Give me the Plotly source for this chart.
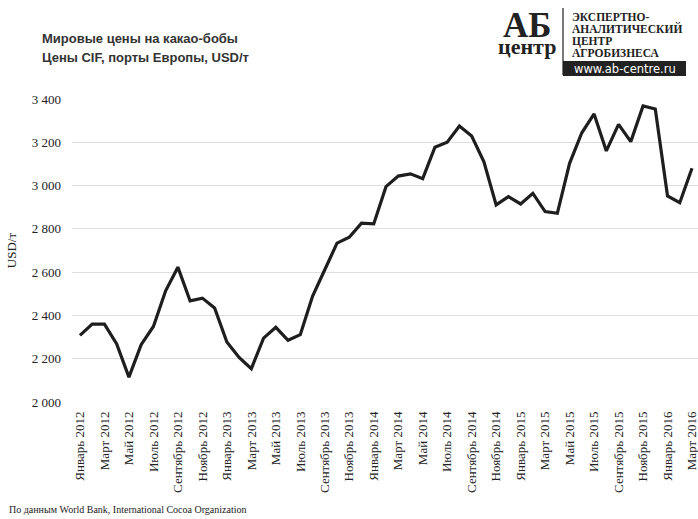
import plotly.graph_objects as go

# Monthly cocoa bean prices, CIF European ports, USD per tonne (Jan 2012 - Mar 2016)
month_names = ["Январь", "Февраль", "Март", "Апрель", "Май", "Июнь",
               "Июль", "Август", "Сентябрь", "Октябрь", "Ноябрь", "Декабрь"]
years = [2012, 2013, 2014, 2015, 2016]
months = [f"{m} {y}" for y in years for m in month_names][:51]

prices = [2308, 2360, 2360, 2268, 2115, 2265, 2349, 2514, 2623, 2467,
          2480, 2434, 2277, 2206, 2154, 2295, 2345, 2285, 2311, 2488,
          2611, 2734, 2761, 2826, 2823, 2995, 3044, 3054, 3032, 3177,
          3200, 3275, 3229, 3110, 2911, 2949, 2915, 2964, 2880, 2872,
          3103, 3244, 3331, 3160, 3283, 3203, 3368, 3354, 2952, 2921,
          3080]

# every second month is labelled on the category axis
tick_idx = list(range(0, len(months), 2))
tick_text = [months[i] for i in tick_idx]

y_ticks = [2000, 2200, 2400, 2600, 2800, 3000, 3200, 3400]

serif = "Liberation Serif, Times New Roman, serif"
sans = "Liberation Sans, Arial, sans-serif"

fig = go.Figure()
fig.add_trace(go.Scatter(
    x=list(range(len(prices))), y=prices, mode="lines",
    line=dict(color="#1e1e1e", width=3.2, shape="linear"),
    hoverinfo="skip", showlegend=False,
))

fig.update_layout(
    width=698, height=519,
    margin=dict(l=72, r=0, t=99, b=117),
    paper_bgcolor="white", plot_bgcolor="white",
    separators=", ",
    xaxis=dict(
        range=[-0.65, 50.49],
        tickmode="array", tickvals=tick_idx, ticktext=tick_text,
        tickangle=-90, showgrid=False, zeroline=False, showline=False,
        ticks="", ticklabelstandoff=6, ticklabeloverflow="allow",
        tickfont=dict(family=serif, size=13, color="#222"),
    ),
    yaxis=dict(
        range=[2000, 3400], tickmode="array", tickvals=y_ticks,
        tickformat=",d", showgrid=True, gridcolor="#dedede", gridwidth=1,
        zeroline=False, showline=False, ticks="", ticklabelstandoff=10,
        tickfont=dict(family=serif, size=13, color="#222"),
        title=dict(text="USD/т", font=dict(family=serif, size=13, color="#222"), standoff=12),
    ),
)


# pixel coordinates converted to paper units
def px(x):
    return (x - 72) / 626


def py(y):
    return (402.3 - y) / 303.3


# chart title
fig.add_annotation(xref="paper", yref="paper", x=px(40), y=py(38),
                   xanchor="left", yanchor="middle", showarrow=False, align="left",
                   text="<b>Мировые цены на какао-бобы</b>",
                   font=dict(family=sans, size=13, color="#333"))
fig.add_annotation(xref="paper", yref="paper", x=px(40), y=py(57),
                   xanchor="left", yanchor="middle", showarrow=False, align="left",
                   text="<b>Цены CIF, порты Европы, USD/т</b>",
                   font=dict(family=sans, size=13, color="#333"))

# source note
fig.add_annotation(xref="paper", yref="paper", x=px(7), y=py(510),
                   xanchor="left", yanchor="middle", showarrow=False,
                   text="По данным World Bank, International Cocoa Organization",
                   font=dict(family=serif, size=10, color="#222"))

# publisher logo: small base font keeps the line pitch tight, spans set glyph size
fig.add_annotation(xref="paper", yref="paper", x=px(527), y=py(32),
                   xanchor="center", yanchor="middle", showarrow=False, borderpad=0,
                   text="<span style='font-size:35px'><b>АБ</b></span><br>"
                        "<span style='font-size:22px'><b>центр</b></span>",
                   font=dict(family=serif, size=13, color="#222"))
fig.add_shape(type="line", xref="paper", yref="paper",
              x0=px(563), x1=px(563), y0=py(8), y1=py(75),
              line=dict(color="#222", width=1.2))
fig.add_shape(type="rect", xref="paper", yref="paper",
              x0=px(563), x1=px(686), y0=py(61), y1=py(76),
              line=dict(width=0), fillcolor="#222")
fig.add_annotation(xref="paper", yref="paper", x=px(571), y=py(34.5),
                   xanchor="left", yanchor="middle", showarrow=False, align="left", borderpad=0,
                   text="<br>".join(f"<span style='font-size:11.5px'><b>{t}</b></span>"
                                    for t in ["ЭКСПЕРТНО-", "АНАЛИТИЧЕСКИЙ", "ЦЕНТР", "АГРОБИЗНЕСА"]),
                   font=dict(family=serif, size=9.3, color="#222"))
fig.add_annotation(xref="paper", yref="paper", x=px(625), y=py(68.5),
                   xanchor="center", yanchor="middle", showarrow=False,
                   text="www.ab-centre.ru", font=dict(family="DejaVu Sans, sans-serif", size=11.5, color="white"))

fig.write_html("out.html")
